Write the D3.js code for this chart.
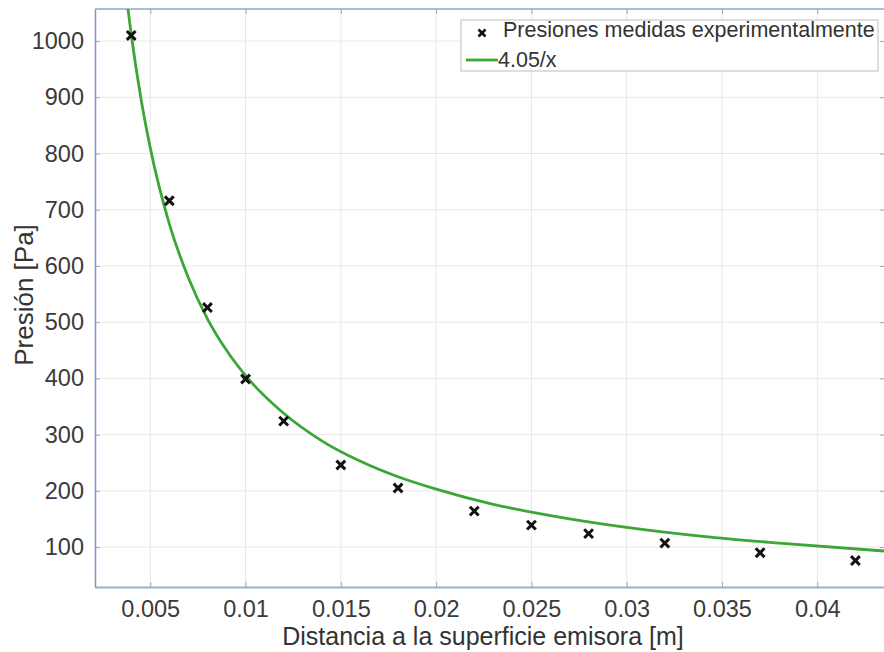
<!DOCTYPE html>
<html>
<head>
<meta charset="utf-8">
<script src="https://cdn.jsdelivr.net/npm/d3@7"></script>
<style>
  body { margin: 0; background: #fff; }
  text { font-family: "Liberation Sans", Arial, sans-serif; }
</style>
</head>
<body>
<div id="chart"></div>
<script>
// measured pressures
const distances = [0.004, 0.006, 0.008, 0.010, 0.012, 0.015, 0.018, 0.022, 0.025, 0.028, 0.032, 0.037, 0.042];
const pressures = [1010, 716, 526, 399, 324, 246, 205, 164, 139, 124, 107, 90, 76];

// fitted curve 4.05/x
const fitX = [0.00383, 0.004, 0.0045, 0.005, 0.006, 0.007, 0.008, 0.009, 0.010, 0.012, 0.014, 0.016, 0.018, 0.020, 0.023, 0.026, 0.030, 0.034, 0.038, 0.0435];
const fitY = [1057, 1012, 900, 810, 675, 579, 506, 450, 405, 338, 289, 253, 225, 203, 176, 156, 135, 119, 107, 93];

const xTicks = [0.005, 0.01, 0.015, 0.02, 0.025, 0.03, 0.035, 0.04];
const yTicks = [100, 200, 300, 400, 500, 600, 700, 800, 900, 1000];
const xDomain = [0.0021, 0.0435];
const yDomain = [29, 1057];

const legendLabels = ["Presiones medidas experimentalmente", "4.05/x"];
const xTitle = "Distancia a la superficie emisora [m]";
const yTitle = "Presión [Pa]";

const width = 884, height = 652;
const margin = {top: 9, left: 95, bottom: 65};
const plotW = 884 - margin.left, plotH = height - margin.top - margin.bottom;

const svg = d3.select("#chart")
  .append("svg")
  .attr("width", width)
  .attr("height", height);

const x = d3.scaleLinear().domain(xDomain).range([0, plotW]);
const y = d3.scaleLinear().domain(yDomain).range([plotH, 0]);

const g = svg.append("g")
  .attr("transform", `translate(${margin.left},${margin.top})`);

g.append("clipPath").attr("id", "clip")
  .append("rect").attr("width", plotW + 10).attr("height", plotH);

// grid
g.append("g")
  .selectAll("line")
  .data(xTicks)
  .join("line")
  .attr("x1", d => x(d)).attr("x2", d => x(d))
  .attr("y1", 0).attr("y2", plotH)
  .attr("stroke", "#e8e8e8");

g.append("g")
  .selectAll("line")
  .data(yTicks)
  .join("line")
  .attr("x1", 0).attr("x2", plotW + 10)
  .attr("y1", d => y(d)).attr("y2", d => y(d))
  .attr("stroke", "#e8e8e8");

// axes, ticks pointing inward
const xAxis = d3.axisBottom(x)
  .tickValues(xTicks)
  .tickFormat(d3.format(""))
  .tickSizeInner(-5).tickSizeOuter(0).tickPadding(13);
const yAxis = d3.axisLeft(y)
  .tickValues(yTicks)
  .tickFormat(d3.format("d"))
  .tickSizeInner(-5).tickSizeOuter(0).tickPadding(11);

const gx = g.append("g")
  .attr("transform", `translate(0,${plotH})`)
  .call(xAxis);
const gy = g.append("g").call(yAxis);

// top ticks
g.append("g")
  .call(d3.axisTop(x).tickValues(xTicks).tickSizeInner(-5).tickSizeOuter(0).tickFormat(""))
  .call(a => a.select(".domain").remove());
// right ticks (just at the cropped edge)
g.append("g")
  .attr("transform", `translate(${plotW},0)`)
  .call(d3.axisRight(y).tickValues(yTicks).tickSizeInner(-4).tickSizeOuter(0).tickFormat(""))
  .call(a => a.select(".domain").remove());

g.selectAll(".tick line").attr("stroke", "#a8a8a8");
[gx, gy].forEach(a => a.selectAll(".tick text")
  .attr("fill", "#3a3a3a")
  .style("font-size", "23.5px"));

gx.select(".domain").attr("stroke", "#9cadc8").attr("stroke-width", 2);
gy.select(".domain").attr("stroke", "#6f97cf").attr("stroke-width", 1.5);
g.append("line")
  .attr("x1", 0).attr("x2", plotW + 10)
  .attr("y1", 0).attr("y2", 0)
  .attr("stroke", "#8ea6c9").attr("stroke-width", 1.5);

// fit curve
const line = d3.line()
  .x((d, i) => x(fitX[i]))
  .y(d => y(d))
  .curve(d3.curveMonotoneX);

g.append("path")
  .datum(fitY)
  .attr("clip-path", "url(#clip)")
  .attr("fill", "none")
  .attr("stroke", "#3ca637")
  .attr("stroke-width", 2.8);

g.select("path[clip-path]").attr("d", line);

// markers
const cross = d3.symbol(d3.symbolX, 52);
g.append("g")
  .selectAll("path")
  .data(pressures)
  .join("path")
  .attr("transform", (d, i) => `translate(${x(distances[i])},${y(d)})`)
  .attr("d", cross)
  .attr("fill", "none")
  .attr("stroke", "#111")
  .attr("stroke-width", 3);

// axis titles
svg.append("text")
  .attr("x", 483)
  .attr("y", 645)
  .attr("text-anchor", "middle")
  .attr("fill", "#333")
  .style("font-size", "25px")
  .text(xTitle);

svg.append("text")
  .attr("transform", "translate(33,295) rotate(-90)")
  .attr("text-anchor", "middle")
  .attr("fill", "#333")
  .style("font-size", "26px")
  .text(yTitle);

// legend
const legend = svg.append("g").attr("transform", "translate(461,20)");
legend.append("rect")
  .attr("width", 417).attr("height", 51)
  .attr("fill", "#fff")
  .attr("stroke", "#bdbdbd");
legend.append("path")
  .attr("transform", "translate(21,13)")
  .attr("d", d3.symbol(d3.symbolX, 34))
  .attr("fill", "none")
  .attr("stroke", "#111")
  .attr("stroke-width", 2.6);
legend.append("line")
  .attr("x1", 5).attr("x2", 37)
  .attr("y1", 40).attr("y2", 40)
  .attr("stroke", "#3ca637")
  .attr("stroke-width", 2.8);
legend.selectAll(".lbl")
  .data(legendLabels)
  .join("text")
  .attr("class", "lbl")
  .attr("x", (d, i) => i === 0 ? 42 : 37)
  .attr("y", (d, i) => i === 0 ? 17 : 47)
  .attr("fill", "#333")
  .style("font-size", "21.5px")
  .text(d => d);
</script>
</body>
</html>
